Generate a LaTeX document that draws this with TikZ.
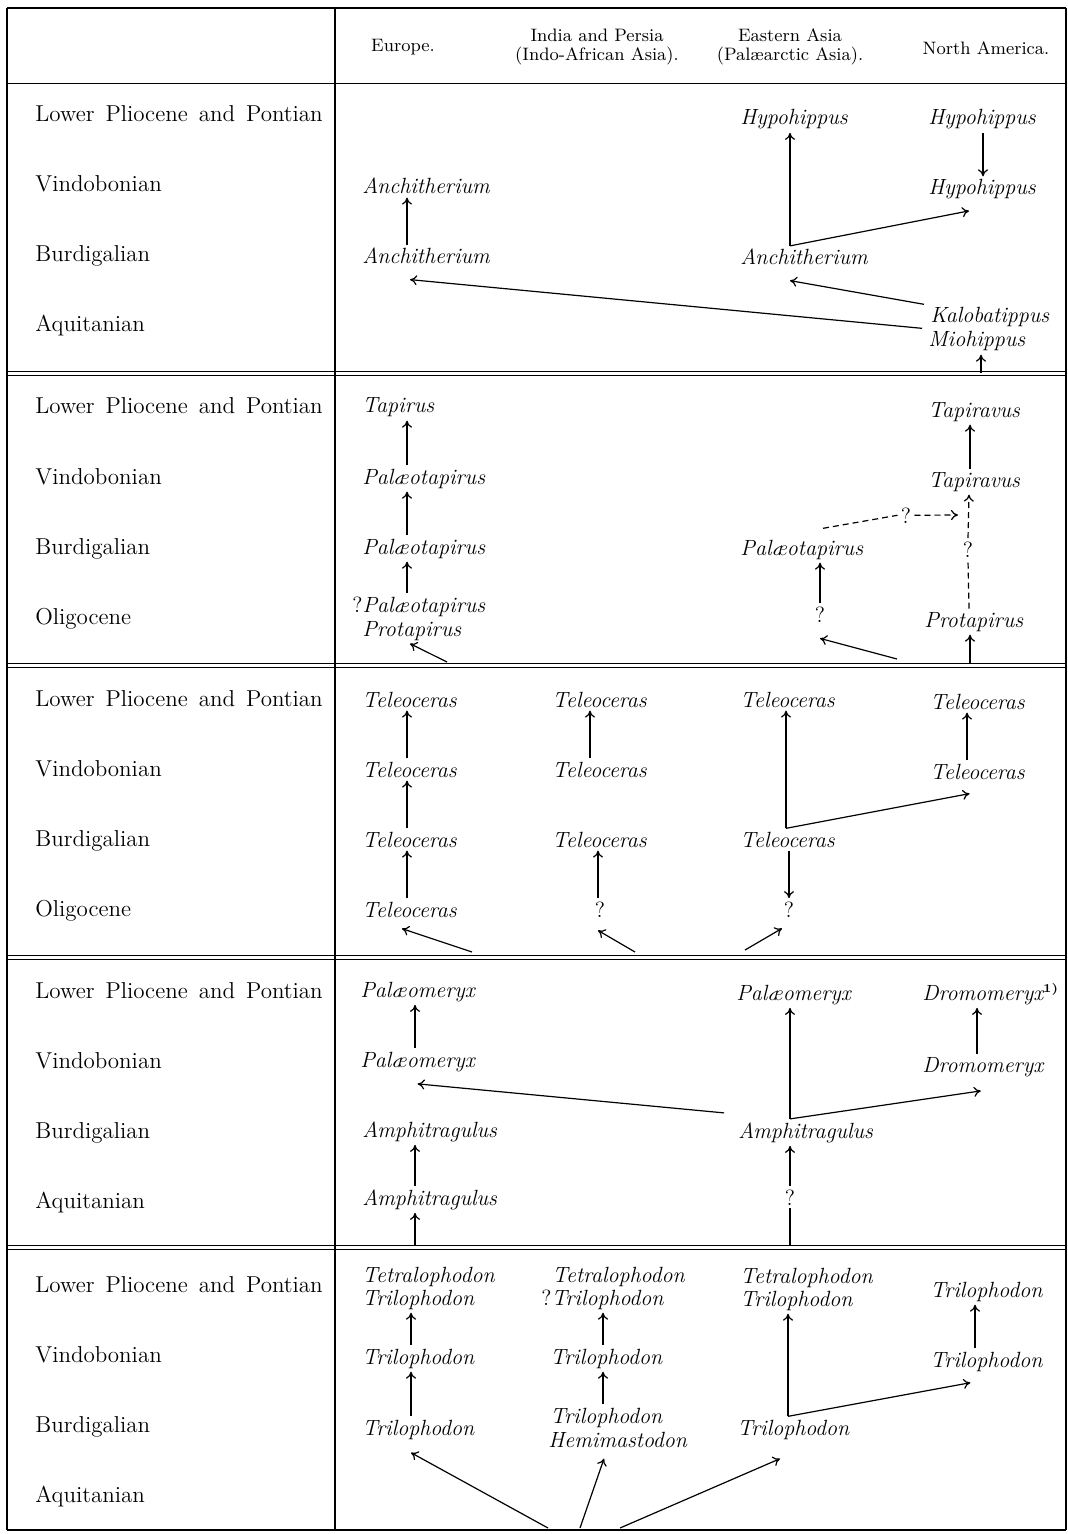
\documentclass[tikz,border=0pt]{standalone}
\usepackage{fontspec}
\usetikzlibrary{calc,arrows.meta}

\begin{document}
\begin{tikzpicture}[x=0.5pt,y=-0.5pt,
  stage/.style={font=\fontsize{11.5}{13}\selectfont, anchor=base west, inner sep=0pt,
    execute at begin node={\spaceskip=5.5pt plus 1pt minus 1pt}},
  genus/.style={font=\fontsize{11}{12}\selectfont\itshape, anchor=base west, inner xsep=0pt, inner ysep=1.5pt},
  query/.style={font=\fontsize{11}{12}\selectfont, anchor=base, inner sep=1.5pt},
  colhead/.style={font=\fontsize{9}{9.5}\selectfont, align=center},
  arr/.style={-{To[length=3.5pt,width=5pt]}, line width=0.6pt},
  dline/.style={dashed, dash pattern=on 3pt off 2pt, line width=0.6pt},
  darr/.style={dline, -{To[length=3.5pt,width=5pt]}},
]

\useasboundingbox (0,0) rectangle (1068,1534);

% ---------------- frame ----------------
\draw[line width=1.4pt] (7,8) -- (1066,8);
\draw[line width=1.4pt] (7,1530) -- (1066,1530);
\draw[line width=0.9pt] (7,8) -- (7,1530);
\draw[line width=0.9pt] (1066,8) -- (1066,1530);
\draw[line width=0.7pt] (335,8) -- (335,1530);
\draw[line width=0.5pt] (7,84) -- (1066,84);
\foreach \y in {372,663,955,1245}
  \draw[line width=0.5pt] (7,\y) -- (1066,\y) (7,\y+4) -- (1066,\y+4);

% ---------------- column heads ----------------
\node[colhead] (hdEu) at (403,47) {Europe.};
\node[colhead] (hdIn) at (597,47) {India and Persia\\(Indo-African Asia).};
\node[colhead] (hdEa) at (790,47) {Eastern Asia\\(Palæarctic Asia).};
\node[colhead] (hdNa) at (986,48) {North America.};

% ---------------- stages ----------------
\foreach \s/\y/\last in {1/122/Aquitanian,2/414/Oligocene,3/706/Oligocene,4/998/Aquitanian,5/1292/Aquitanian}{
  \node[stage] (lp\s) at (35,\y) {Lower Pliocene and Pontian};
  \node[stage] (vi\s) at (35,\y+70) {Vindobonian};
  \node[stage] (bu\s) at (35,\y+140) {Burdigalian};
  \node[stage] (la\s) at (35,\y+210) {\last};
}

% =========== horses ===========
\node[genus] (eaHypo)  at (740,125) {Hypohippus};
\node[genus] (naHypoL) at (928,125) {Hypohippus};
\node[genus] (naHypoV) at (928,195) {Hypohippus};
\node[genus] (euAnchV) at (362,194) {Anchitherium};
\node[genus] (euAnchB) at (362,264) {Anchitherium};
\node[genus] (eaAnch)  at (740,265) {Anchitherium};
\node[genus] (naKalo)  at (930,323) {Kalobatippus};
\node[genus] (naMio)   at (928,347) {Miohippus};

\draw[arr] (euAnchB.north -| 407,0) -- (euAnchV.south -| 407,0);
\draw[arr] (naHypoL.south -| 983,0) -- (naHypoV.north -| 983,0);
\coordinate (eqFork) at (eaAnch.north -| 790,0);
\draw[arr] (eqFork) -- ($(naHypoV.south)+(-13,8)$);
\draw[arr] (eqFork) -- (eaHypo.south -| 790,0);
\draw[arr] ($(naKalo.north west)+(-6,0)$) -- ($(eaAnch.south -| 790,0)+(0,12)$);
\draw[arr] ($(naMio.north west)+(-6,0)$) -- ($(euAnchB.south -| 410,0)+(0,12)$);
\coordinate (eqRoot) at (981,373);
\draw[arr] (eqRoot) -- (naMio.south -| 981,0);

% =========== tapirs ===========
\node[genus] (euTap)  at (362,413) {Tapirus};
\node[genus] (euPalV) at (362,484) {Palæotapirus};
\node[genus] (euPalB) at (362,554) {Palæotapirus};
\node[genus] (euPalO) at (352,612) {{\upshape ?}Palæotapirus};
\node[genus] (euProt) at (362,636) {Protapirus};
\node[genus] (eaPal)  at (740,555) {Palæotapirus};
\node[query] (eaQ)    at (820,622) {?};
\node[genus] (naTapL) at (928,417) {Tapiravus};
\node[genus] (naTapV) at (928,487) {Tapiravus};
\node[genus] (naProt) at (924,627) {Protapirus};
\node[query] (tapQa)  at (906,523) {?};
\node[query] (tapQb)  at (968,557) {?};

\draw[arr] (euPalV.north -| 407,0) -- (euTap.south -| 407,0);
\draw[arr] (euPalB.north -| 407,0) -- (euPalV.south -| 407,0);
\draw[arr] (euPalO.north -| 407,0) -- (euPalB.south -| 407,0);
\coordinate (tapEu) at (447,662);
\draw[arr] (tapEu) -- (euProt.south -| 410,0);
\draw[arr] (eaQ.north) -- (eaPal.south -| 820,0);
\coordinate (tapEa) at (897,659);
\draw[arr] (tapEa) -- ($(eaQ.south)+(0,13)$);
\draw[dline] ($(eaPal.north -| 823,0)+(0,-8)$) -- (tapQa.west);
\coordinate (tapJoin) at (958,515);
\draw[darr] (tapQa.east) -- (tapJoin);
\draw[arr] (naTapV.north -| 970,0) -- (naTapL.south -| 970,0);
\draw[dline] (naProt.north -| 969,0) -- (tapQb.south);
\draw[darr] (tapQb.north) -- (naTapV.south -| 969,0);
\coordinate (tapNa) at (970,663);
\draw[arr] (tapNa) -- (naProt.south -| 970,0);

% =========== rhinoceroses ===========
\node[genus] (euTelL) at (362,707) {Teleoceras};
\node[genus] (euTelV) at (362,777) {Teleoceras};
\node[genus] (euTelB) at (362,847) {Teleoceras};
\node[genus] (euTelO) at (362,917) {Teleoceras};
\node[genus] (inTelL) at (552,707) {Teleoceras};
\node[genus] (inTelV) at (552,777) {Teleoceras};
\node[genus] (inTelB) at (552,847) {Teleoceras};
\node[query] (inQ)    at (600,917) {?};
\node[genus] (eaTelL) at (740,707) {Teleoceras};
\node[genus] (eaTelB) at (740,847) {Teleoceras};
\node[query] (eaQb)   at (789,917) {?};
\node[genus] (naTelL) at (930,709) {Teleoceras};
\node[genus] (naTelV) at (930,779) {Teleoceras};

\draw[arr] (euTelV.north -| 407,0) -- (euTelL.south -| 407,0);
\draw[arr] (euTelB.north -| 407,0) -- (euTelV.south -| 407,0);
\draw[arr] (euTelO.north -| 407,0) -- (euTelB.south -| 407,0);
\draw[arr] (inTelV.north -| 590,0) -- (inTelL.south -| 590,0);
\draw[arr] (inQ.north -| 598,0) -- (inTelB.south -| 598,0);
\coordinate (rhFork) at (eaTelB.north -| 786,0);
\draw[arr] (rhFork) -- (eaTelL.south -| 786,0);
\draw[arr] (rhFork) -- ($(naTelV.south)+(-8,11)$);
\draw[arr] (eaTelB.south -| 789,0) -- (eaQb.north);
\draw[arr] (naTelV.north -| 967,0) -- (naTelL.south -| 967,0);
\coordinate (rhEu) at (472,952);
\coordinate (rhIn) at (635,952);
\coordinate (rhEa) at (745,950);
\draw[arr] (rhEu) -- ($(euTelO.south -| 402,0)+(0,8)$);
\draw[arr] (rhIn) -- ($(inQ.south)+(-2,10)$);
\draw[arr] (rhEa) -- ($(eaQb.south)+(-7,8)$);

% =========== deer ===========
\node[genus] (euPmL) at (360,997)  {Palæomeryx};
\node[genus] (euPmV) at (360,1067) {Palæomeryx};
\node[genus] (euAmB) at (362,1137) {Amphitragulus};
\node[genus] (euAmA) at (362,1205) {Amphitragulus};
\node[genus] (eaPm)  at (736,1000) {Palæomeryx};
\node[genus] (eaAm)  at (738,1138) {Amphitragulus};
\node[query] (eaQc)  at (790,1205) {?};
\node[genus] (naDrL) at (922,1000) {Dromomeryx\textsuperscript{\upshape\bfseries\fontsize{6}{6}\selectfont 1)}};
\node[genus] (naDrV) at (922,1072) {Dromomeryx};

\draw[arr] (euPmV.north -| 415,0) -- (euPmL.south -| 415,0);
\draw[arr] (euAmA.north -| 415,0) -- (euAmB.south -| 415,0);
\coordinate (pmEu) at (415,1246);
\draw[arr] (pmEu) -- (euAmA.south -| 415,0);
\coordinate (pmFork) at (eaAm.north -| 790,0);
\draw[arr] (pmFork) -- (eaPm.south -| 790,0);
\draw[arr] (pmFork) -- ($(naDrV.south)+(-2,11)$);
\draw[arr] ($(eaAm.north west)+(-14,-6)$) -- ($(euPmV.south)+(0,9)$);
\draw[arr] (eaQc.north) -- (eaAm.south -| 790,0);
\coordinate (pmEa) at (790,1246);
\draw[line width=0.6pt] (pmEa) -- (eaQc.south);
\draw[arr] (naDrV.north -| 977,0) -- (naDrL.south -| 977,0);

% =========== mastodons ===========
\node[genus] (euTetL) at (362,1282) {Tetralophodon};
\node[genus] (euTriL) at (362,1305) {Trilophodon};
\node[genus] (euTriV) at (362,1364) {Trilophodon};
\node[genus] (euTriB) at (362,1435) {Trilophodon};
\node[genus] (inTetL) at (552,1282) {Tetralophodon};
\node[genus] (inTriL) at (541,1305) {{\upshape ?}Trilophodon};
\node[genus] (inTriV) at (550,1364) {Trilophodon};
\node[genus] (inTriB) at (550,1423) {Trilophodon};
\node[genus] (inHemi) at (548,1447) {Hemimastodon};
\node[genus] (eaTetL) at (740,1283) {Tetralophodon};
\node[genus] (eaTriL) at (740,1306) {Trilophodon};
\node[genus] (eaTriB) at (737,1435) {Trilophodon};
\node[genus] (naTriL) at (930,1297) {Trilophodon};
\node[genus] (naTriV) at (930,1367) {Trilophodon};

\draw[arr] (euTriV.north -| 411,0) -- (euTriL.south -| 411,0);
\draw[arr] (euTriB.north -| 411,0) -- (euTriV.south -| 411,0);
\draw[arr] (inTriV.north -| 603,0) -- (inTriL.south -| 603,0);
\draw[arr] (inTriB.north -| 603,0) -- (inTriV.south -| 603,0);
\coordinate (maFork) at (eaTriB.north -| 788,0);
\draw[arr] (maFork) -- (eaTriL.south -| 788,0);
\draw[arr] (maFork) -- ($(naTriV.south)+(-16,8)$);
\draw[arr] (naTriV.north -| 975,0) -- (naTriL.south -| 975,0);
\coordinate (maEu) at (548,1528);
\coordinate (maIn) at (580,1528);
\coordinate (maEa) at (620,1528);
\draw[arr] (maEu) -- ($(euTriB.south -| 411,0)+(0,10)$);
\draw[arr] (maIn) -- ($(inHemi.south -| 604,0)+(0,8)$);
\draw[arr] (maEa) -- ($(eaTriB.south -| 780,0)+(0,16)$);

\end{tikzpicture}
\end{document}
